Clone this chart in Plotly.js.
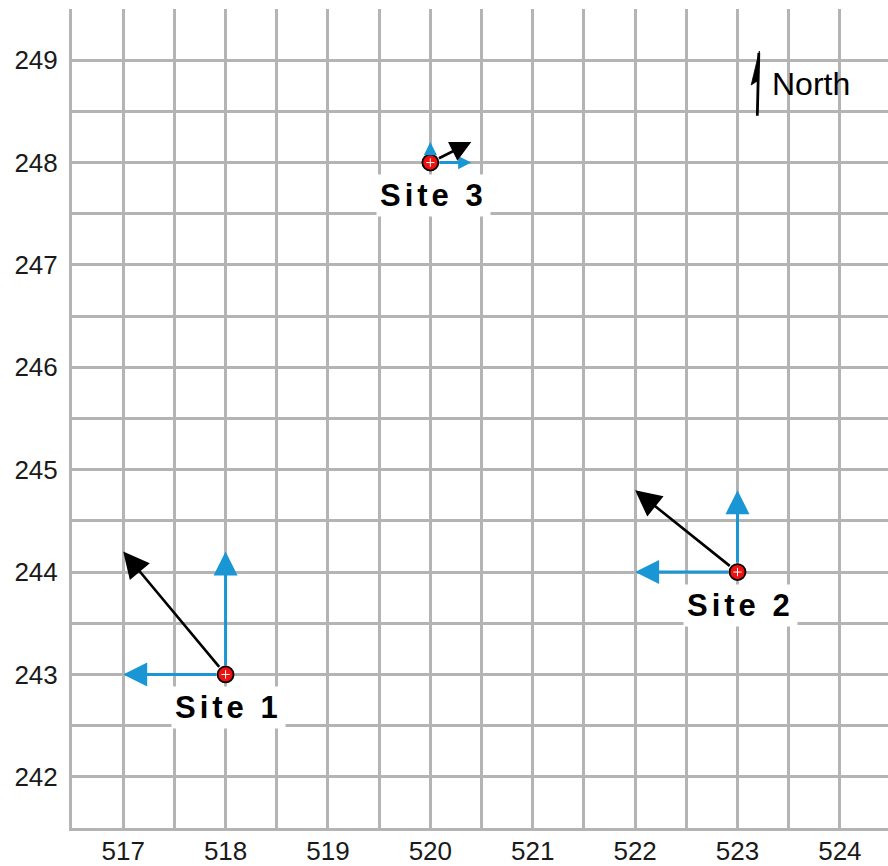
<!DOCTYPE html>
<html>
<head>
<meta charset="utf-8">
<script src="https://cdn.plot.ly/plotly-3.0.1.min.js"></script>
<style>html,body{margin:0;padding:0;background:#fff;}#chart{width:888px;height:866px;}</style>
</head>
<body>
<div id="chart"></div>
<script>
// Data
var siteNames = ["Site 1", "Site 2", "Site 3"];
var siteX = [518, 523, 520];
var siteY = [243, 244, 248];
var northComp = [1.2, 0.8, 0.2];   // northward component
var eastComp = [-1.0, -1.0, 0.4];  // eastward component (negative = west)
var xTicks = [517, 518, 519, 520, 521, 522, 523, 524];
var yTicks = [242, 243, 244, 245, 246, 247, 248, 249];

// Style
var headScale = [1, 1, 0.55];
var GRID = '#b4b4b4';
var FONT = '"Liberation Sans", Arial, sans-serif';
var BLUE = '#1a96d4';

var annotations = [];
for (var i = 0; i < siteX.length; i++) {
  annotations.push({x: siteX[i], y: siteY[i] + northComp[i], ax: siteX[i], ay: siteY[i],
    xref: 'x', yref: 'y', axref: 'x', ayref: 'y', text: '', showarrow: true,
    arrowhead: 2, arrowsize: 1.6 * headScale[i], arrowwidth: 3, arrowcolor: BLUE, startstandoff: 8, standoff: 0});
  annotations.push({x: siteX[i] + eastComp[i], y: siteY[i], ax: siteX[i], ay: siteY[i],
    xref: 'x', yref: 'y', axref: 'x', ayref: 'y', text: '', showarrow: true,
    arrowhead: 2, arrowsize: 1.6 * headScale[i], arrowwidth: 3, arrowcolor: BLUE, startstandoff: 8, standoff: 0});
}
for (var i = 0; i < siteX.length; i++) {
  annotations.push({x: siteX[i] + eastComp[i], y: siteY[i] + northComp[i], ax: siteX[i], ay: siteY[i],
    xref: 'x', yref: 'y', axref: 'x', ayref: 'y', text: '', showarrow: true,
    arrowhead: 2, arrowsize: 2.0 * (headScale[i] < 1 ? 0.8 : 1), arrowwidth: 2.6, arrowcolor: '#000', startstandoff: 8, standoff: 0});
}
for (var i = 0; i < siteX.length; i++) {
  annotations.push({x: siteX[i], y: siteY[i], xref: 'x', yref: 'y', yshift: -33, xshift: 3,
    text: '<span style="letter-spacing:4px">' + siteNames[i] + '</span>', showarrow: false,
    bgcolor: '#ffffff', borderpad: 3,
    font: {family: FONT, size: 31, color: '#000', weight: 'bold'}});
}
annotations.push({x: (770 - 72) / 816, y: (828 - 84) / 819, xref: 'paper', yref: 'paper',
  xanchor: 'left', yanchor: 'middle', text: 'North', showarrow: false,
  font: {family: FONT, size: 32, color: '#000'}});

function px(v) { return (v - 72) / 816; }
function py(v) { return (828 - v) / 819; }

var shapes = [
  {type: 'line', xref: 'paper', yref: 'paper', x0: px(757.3), y0: py(115.7), x1: px(758.8), y1: py(53),
   line: {color: '#000', width: 2.8}},
  {type: 'path', xref: 'paper', yref: 'paper',
   path: 'M' + px(759.4) + ',' + py(51) + 'L' + px(751.2) + ',' + py(85) + 'L' + px(758) + ',' + py(80.5) + 'Z',
   fillcolor: '#000', line: {color: '#000', width: 0.8}}
];

var traces = [
  {type: 'scatter', mode: 'markers', x: siteX, y: siteY, hoverinfo: 'skip',
   marker: {size: 16, color: '#f01010', line: {color: '#000', width: 1.8}}},
  {type: 'scatter', mode: 'markers', x: siteX, y: siteY, hoverinfo: 'skip',
   marker: {size: 6, symbol: 'cross-thin', color: '#fff', line: {color: '#ffffff', width: 1}}}
];

var layout = {
  width: 888, height: 866,
  margin: {l: 72, r: 0, t: 9, b: 38},
  paper_bgcolor: '#fff', plot_bgcolor: '#fff',
  showlegend: false,
  xaxis: {range: [516.5, 524.47], tickvals: xTicks, ticktext: xTicks.map(String),
    showgrid: true, gridcolor: GRID, gridwidth: 3,
    minor: {dtick: 0.5, tick0: 516.5, showgrid: true, gridcolor: GRID, gridwidth: 3},
    showline: true, linecolor: GRID, linewidth: 3, zeroline: false, ticks: '',
    ticklabelstandoff: -2, tickfont: {family: FONT, size: 26, color: '#1a1a1a'}, fixedrange: true},
  yaxis: {range: [241.5, 249.5], tickvals: yTicks, ticktext: yTicks.map(String),
    showgrid: true, gridcolor: GRID, gridwidth: 3,
    minor: {dtick: 0.5, tick0: 241.5, showgrid: true, gridcolor: GRID, gridwidth: 3},
    showline: true, linecolor: GRID, linewidth: 3, zeroline: false, ticks: '',
    ticklabelstandoff: 6, tickfont: {family: FONT, size: 26, color: '#1a1a1a'}, fixedrange: true},
  annotations: annotations,
  shapes: shapes
};

Plotly.newPlot('chart', traces, layout, {staticPlot: true, displayModeBar: false});
</script>
</body>
</html>
